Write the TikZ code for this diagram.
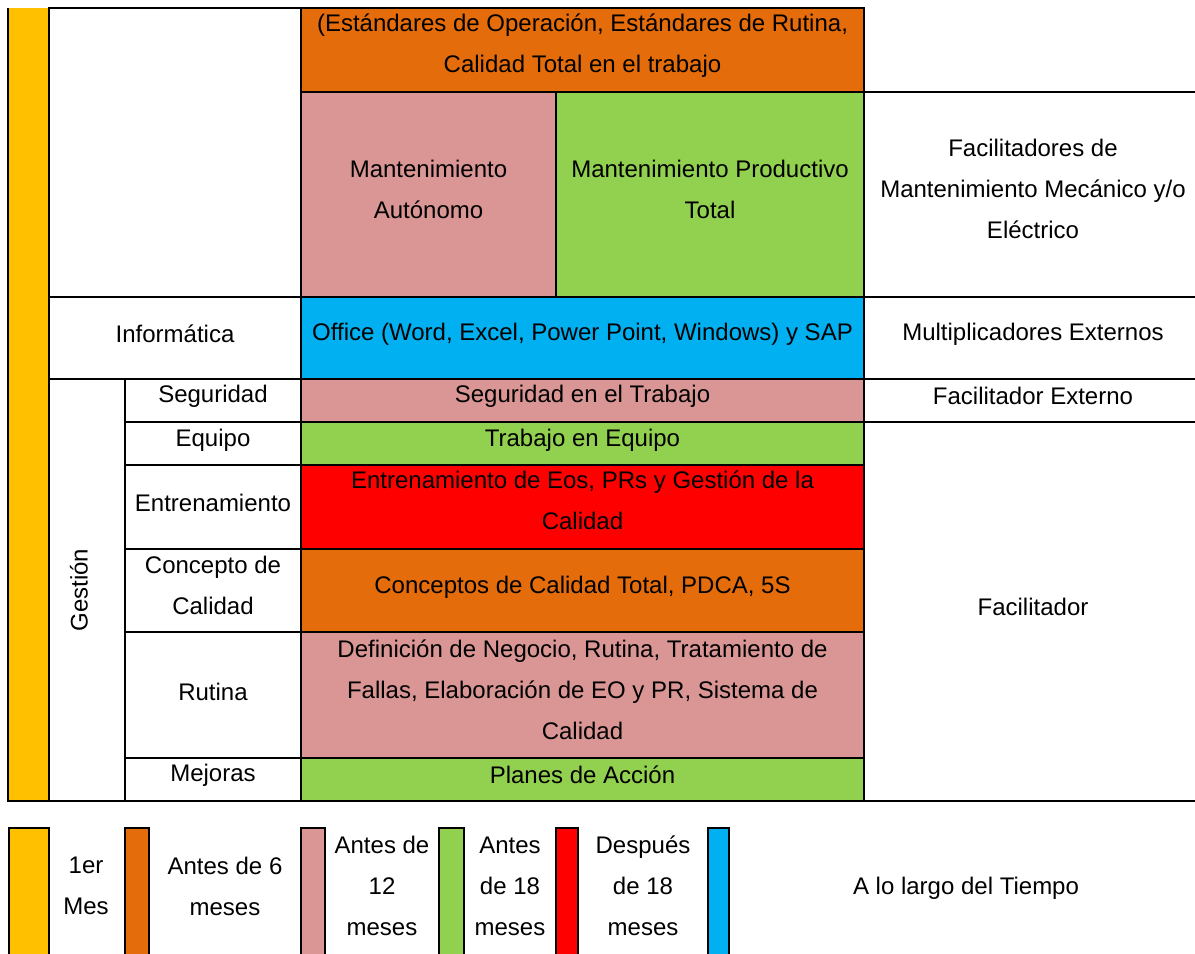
\documentclass[tikz,border=0pt]{standalone}
\usepackage{fontspec}
\setmainfont{Liberation Sans}
\definecolor{cYellow}{HTML}{FFC000}
\definecolor{cOrange}{HTML}{E46C0A}
\definecolor{cPink}{HTML}{D99694}
\definecolor{cGreen}{HTML}{92D050}
\definecolor{cRed}{HTML}{FF0000}
\definecolor{cBlue}{HTML}{00B0F0}
\begin{document}
\begin{tikzpicture}[x=0.75pt,y=-0.75pt,
  rule/.style={line width=1.5pt, line cap=rect},
  thinrule/.style={line width=0.8pt},
  txt/.style={font=\fontsize{18}{30.75}\selectfont, align=center, inner sep=0pt},
  oneline/.style={txt, yshift=-1.5pt},
  keybox/.style={line width=1.5pt, draw=black}]
\clip (0,0) rectangle (1195,953);
\fill[white] (0,0) rectangle (1195,953);

% coloured cells
\fill[cYellow] (8,8) rectangle (49,801);
\fill[cOrange] (301,8) rectangle (864,92);
\fill[cPink]   (301,92) rectangle (556,297);
\fill[cGreen]  (556,92) rectangle (864,297);
\fill[cBlue]   (301,297) rectangle (864,379);
\fill[cPink]   (301,379) rectangle (864,422);
\fill[cGreen]  (301,422) rectangle (864,465);
\fill[cRed]    (301,465) rectangle (864,549);
\fill[cOrange] (301,549) rectangle (864,632);
\fill[cPink]   (301,632) rectangle (864,758);
\fill[cGreen]  (301,758) rectangle (864,801);

% horizontal rules
\draw[rule] (49,8) -- (864,8);
\draw[thinrule] (301,92) -- (864,92);
\draw[rule] (864,92) -- (1210,92);
\draw[rule] (49,297) -- (1210,297);
\draw[rule] (49,379) -- (1210,379);
\draw[rule] (125,422) -- (1210,422);
\foreach \yy in {465,549,632,758} \draw[rule] (125,\yy) -- (864,\yy);
\draw[rule] (8,801) -- (1210,801);

% vertical rules
\draw[rule] (8,9) -- (8,801);
\draw[rule] (49,8) -- (49,801);
\draw[rule] (125,379) -- (125,801);
\draw[rule] (301,8) -- (301,801);
\draw[thinrule] (556,92) -- (556,297);
\draw[rule] (864,8) -- (864,801);

% cell texts
\node[txt] (estandares) at (582.5,46) {(Estándares de Operación, Estándares de Rutina,\\Calidad Total en el trabajo};
\node[txt] (autonomo) at (428.5,189) {Mantenimiento\\Autónomo};
\node[txt] (productivo) at (710,189) {Mantenimiento Productivo\\Total};
\node[txt] (facmec) at (1033,189) {Facilitadores de\\Mantenimiento Mecánico y/o\\Eléctrico};
\node[oneline] (informatica) at (175,332) {Informática};
\node[oneline] (office) at (582.5,332) {Office (Word, Excel, Power Point, Windows) y SAP};
\node[oneline] (multiplic) at (1033,332) {Multiplicadores Externos};
\node[txt, rotate=90] (gestion) at (79,590) {Gestión};
\node[oneline] (seguridad) at (213,394) {Seguridad};
\node[oneline] (segtrabajo) at (582.5,394) {Seguridad en el Trabajo};
\node[oneline] (facext) at (1033,394) {Facilitador Externo};
\node[oneline] (equipo) at (213,438) {Equipo};
\node[oneline] (trabequipo) at (582.5,438) {Trabajo en Equipo};
\node[oneline] (entren) at (213,501) {Entrenamiento};
\node[txt] (entreneos) at (582.5,500) {Entrenamiento de Eos, PRs y Gestión de la\\Calidad};
\node[txt] (concepto) at (213,585) {Concepto de\\Calidad};
\node[oneline] (conceptos) at (582.5,585) {Conceptos de Calidad Total, PDCA, 5S};
\node[oneline] (rutina) at (213,690) {Rutina};
\node[txt] (definicion) at (582.5,690) {Definición de Negocio, Rutina, Tratamiento de\\Fallas, Elaboración de EO y PR, Sistema de\\Calidad};
\node[oneline] (mejoras) at (213,773) {Mejoras};
\node[oneline] (planes) at (582.5,773) {Planes de Acción};
\node[oneline] (facilitador) at (1033,605) {Facilitador};

% key
\filldraw[keybox, fill=cYellow] (9,828) rectangle (49,980);
\filldraw[keybox, fill=cOrange] (125,828) rectangle (149,980);
\filldraw[keybox, fill=cPink]   (301,828) rectangle (325,980);
\filldraw[keybox, fill=cGreen]  (439,828) rectangle (464,980);
\filldraw[keybox, fill=cRed]    (556,828) rectangle (578,980);
\filldraw[keybox, fill=cBlue]   (708,828) rectangle (729,980);
\node[txt] (k1) at (86,886) {1er\\Mes};
\node[txt] (k2) at (225,886) {Antes de 6\\meses};
\node[txt] (k3) at (382,886) {Antes de\\12\\meses};
\node[txt] (k4) at (510,886) {Antes\\de 18\\meses};
\node[txt] (k5) at (643,886) {Después\\de 18\\meses};
\node[oneline] (k6) at (966,886) {A lo largo del Tiempo};
\end{tikzpicture}
\end{document}
